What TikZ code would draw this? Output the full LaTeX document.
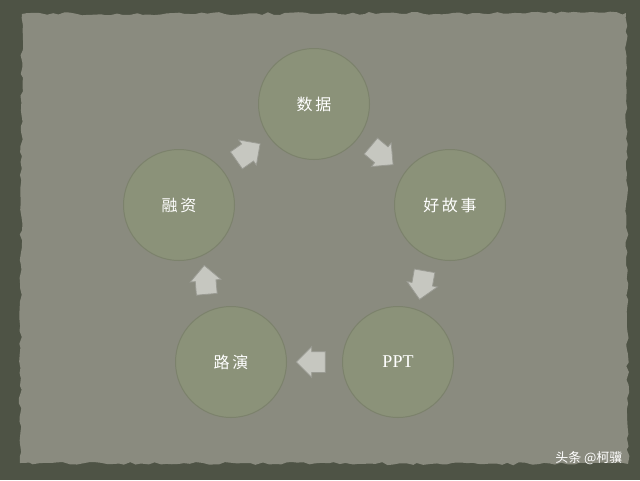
\documentclass[tikz,border=0pt]{standalone}
\usepackage{fontspec}
\setmainfont{Liberation Serif}
\newfontfamily\cjk{Noto Sans CJK SC}
\usetikzlibrary{shapes.arrows,decorations.pathmorphing}
\definecolor{bgdark}{HTML}{4E5345}
\definecolor{paper}{HTML}{8A8B7F}
\definecolor{disc}{HTML}{8B9279}
\definecolor{discedge}{HTML}{7C826C}
\definecolor{arrowfill}{HTML}{C6C7C0}
\definecolor{arrowedge}{HTML}{9A9B93}
\tikzset{
  stage/.style={circle, minimum size=111pt, inner sep=0pt, fill=disc, draw=discedge, line width=1pt, text=white, font=\cjk\fontsize{16}{16}\selectfont},
  flow/.style={single arrow, fill=arrowfill, draw=arrowedge, line width=0.8pt, minimum height=29pt, inner xsep=0pt, inner ysep=10pt, single arrow head extend=5pt, single arrow head indent=0pt}
}
\begin{document}
\begin{tikzpicture}[x=1pt,y=-1pt]
\useasboundingbox (0,0) rectangle (640,480);
\fill[bgdark] (0,0) rectangle (640,480);
\fill[paper, decorate, decoration={random steps, segment length=6pt, amplitude=1.5pt}]
  (22,14) -- (626,13) -- (628,464) -- (20,463) -- cycle;
\node[stage] (data) at (314,104) {数\,据};
\node[stage] (story) at (450,205) {好\,故\,事};
\node[stage, font=\fontsize{18}{18}\selectfont] (ppt) at (398,362) {PPT};
\node[stage] (roadshow) at (231,362) {路\,演};
\node[stage] (finance) at (179,205) {融\,资};
\node[flow, rotate=35] (a1) at (244,155) {};
\node[flow, rotate=-40] (a2) at (378,152) {};
\node[flow, rotate=-100] (a3) at (423,280) {};
\node[flow, rotate=180] (a4) at (316,362) {};
\node[flow, rotate=95] (a5) at (206,285) {};
\node[text=white, font=\cjk\fontsize{13}{13}\selectfont, anchor=east] (wm) at (626,458) {头条 @柯骥};
\end{tikzpicture}
\end{document}
